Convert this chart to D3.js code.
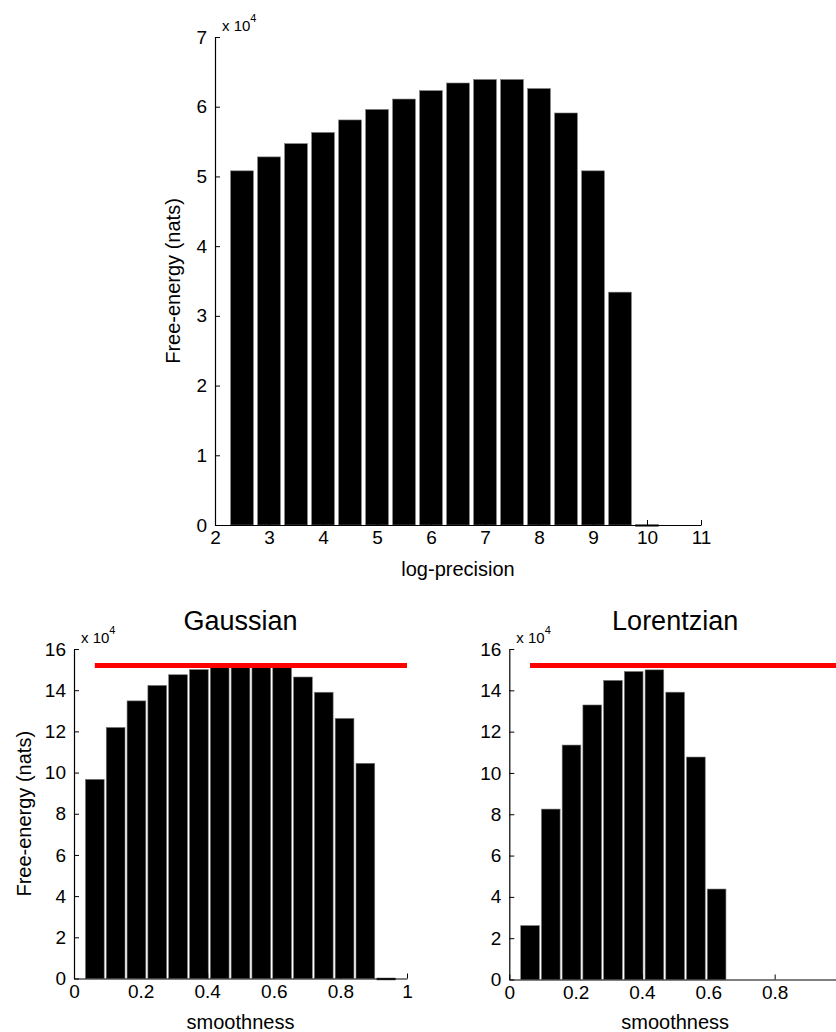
<!DOCTYPE html>
<html>
<head>
<meta charset="utf-8">
<script src="https://cdn.jsdelivr.net/npm/d3@7"></script>
<title>Free-energy bars</title>
<style>
  body { margin: 0; background: #fff; }
  svg text { font-family: "Liberation Sans", Arial, Helvetica, sans-serif; fill: #000; }
</style>
</head>
<body>
<script>
// top panel: free energy (x 10^4) against log-precision
var precisionX = [2.5, 3, 3.5, 4, 4.5, 5, 5.5, 6, 6.5, 7, 7.5, 8, 8.5, 9, 9.5, 10];
var precisionF = [5.08, 5.28, 5.47, 5.63, 5.81, 5.96, 6.11, 6.23, 6.34, 6.39, 6.39, 6.26, 5.91, 5.08, 3.34, 0];
var precisionTicks = [2, 3, 4, 5, 6, 7, 8, 9, 10, 11];
var energyTicksTop = [0, 1, 2, 3, 4, 5, 6, 7];

// bottom panels: free energy (x 10^4) against smoothness
var smoothX = [0.0625, 0.125, 0.1875, 0.25, 0.3125, 0.375, 0.4375, 0.5, 0.5625, 0.625, 0.6875, 0.75, 0.8125, 0.875, 0.9375];
var gaussianF = [9.67, 12.19, 13.48, 14.23, 14.75, 15.0, 15.12, 15.18, 15.17, 15.1, 14.64, 13.9, 12.63, 10.45, 0];
var lorentzianF = [2.61, 8.25, 11.35, 13.29, 14.48, 14.91, 14.99, 13.91, 10.77, 4.38];
var bestF = 15.2;           // red reference line
var bestFrom = 0.0625;
var smoothTicks = [0, 0.2, 0.4, 0.6, 0.8, 1];
var smoothTicksCut = [0, 0.2, 0.4, 0.6, 0.8];   // right panel runs off the page before 1
var energyTicksBottom = [0, 2, 4, 6, 8, 10, 12, 14, 16];

var svg = d3.select("body").append("svg")
  .attr("width", 836)
  .attr("height", 1032);

var fmt = function(d) { return String(+d.toFixed(1)); };

function panel(opt) {
  var x = d3.scaleLinear().domain(opt.xDomain).range(opt.xRange);
  var y = d3.scaleLinear().domain(opt.yDomain).range(opt.yRange);
  var g = svg.append("g");
  var w = (x(opt.step) - x(0)) * opt.barWidth;

  // bars (zero-height bars come out as a short line on the baseline, as in matlab)
  g.selectAll("rect.bar")
    .data(opt.xs.map(function(d, i) { return { x: d, v: opt.vals[i] }; }))
    .enter().append("rect")
    .attr("class", "bar")
    .attr("x", function(d) { return x(d.x) - w / 2; })
    .attr("width", w)
    .attr("y", function(d) { return d.v > 0 ? y(d.v) : y(0) - 0.5; })
    .attr("height", function(d) { return d.v > 0 ? y(0) - y(d.v) : 2; })
    .attr("fill", "#000")
    .attr("stroke", "#777")
    .attr("stroke-width", 0.6);

  var ya = g.append("g")
    .attr("transform", "translate(" + opt.xRange[0] + ",0)")
    .call(d3.axisLeft(y).tickValues(opt.yTicks).tickSizeInner(-5).tickSizeOuter(0).tickPadding(8)
      .tickFormat(fmt));
  var xa = g.append("g")
    .attr("transform", "translate(0," + opt.yRange[0] + ")")
    .call(d3.axisBottom(x).tickValues(opt.xTicks).tickSizeInner(-5).tickSizeOuter(0).tickPadding(6)
      .tickFormat(fmt));
  [ya, xa].forEach(function(a) {
    a.select(".domain").attr("stroke", "#000").attr("stroke-width", 1.2);
    a.selectAll(".tick line").attr("stroke", "#000").attr("stroke-width", 1);
    a.selectAll(".tick text").attr("font-size", 19).attr("fill", "#000");
  });

  if (opt.line) {
    g.append("line")
      .attr("x1", x(opt.line.from)).attr("x2", x(opt.line.to))
      .attr("y1", y(opt.line.v)).attr("y2", y(opt.line.v))
      .attr("stroke", "#ff0000")
      .attr("stroke-width", 5);
  }

  // exponent label
  var ex = g.append("text")
    .attr("x", opt.xRange[0] + 7)
    .attr("y", opt.yRange[1] - 6)
    .attr("font-size", 15)
    .text("x 10");
  ex.append("tspan").attr("font-size", 11).attr("dy", -9).text("4");

  var xm = (opt.xRange[0] + x(opt.xDomain[1])) / 2;
  var ym = (opt.yRange[0] + opt.yRange[1]) / 2;

  g.append("text")
    .attr("x", xm)
    .attr("y", opt.yRange[0] + opt.xLabelGap)
    .attr("text-anchor", "middle")
    .attr("font-size", 20)
    .text(opt.xLabel);

  if (opt.yLabel) {
    g.append("text")
      .attr("transform", "translate(" + opt.yLabelX + "," + ym + ") rotate(-90)")
      .attr("text-anchor", "middle")
      .attr("font-size", 20)
      .text(opt.yLabel);
  }

  if (opt.title) {
    g.append("text")
      .attr("x", xm)
      .attr("y", opt.yRange[1] - 19)
      .attr("text-anchor", "middle")
      .attr("font-size", 27)
      .text(opt.title);
  }
}

panel({
  xs: precisionX, vals: precisionF, step: 0.5, barWidth: 0.84,
  xDomain: [2, 11], xRange: [215, 701],
  yDomain: [0, 7], yRange: [525, 37],
  xTicks: precisionTicks, yTicks: energyTicksTop,
  xLabel: "log-precision", xLabelGap: 51,
  yLabel: "Free-energy (nats)", yLabelX: 180
});

panel({
  xs: smoothX, vals: gaussianF, step: 0.0625, barWidth: 0.9,
  xDomain: [0, 1], xRange: [74, 407],
  yDomain: [0, 16], yRange: [978.5, 649],
  xTicks: smoothTicks, yTicks: energyTicksBottom,
  xLabel: "smoothness", xLabelGap: 50,
  yLabel: "Free-energy (nats)", yLabelX: 31,
  title: "Gaussian",
  line: { v: bestF, from: bestFrom, to: 1 }
});

panel({
  xs: smoothX.slice(0, lorentzianF.length), vals: lorentzianF, step: 0.0625, barWidth: 0.9,
  xDomain: [0, 1], xRange: [509.3, 841],
  yDomain: [0, 16], yRange: [979.5, 649],
  xTicks: smoothTicksCut, yTicks: energyTicksBottom,
  xLabel: "smoothness", xLabelGap: 49.5,
  title: "Lorentzian",
  line: { v: bestF, from: bestFrom, to: 1 }
});
</script>
</body>
</html>
